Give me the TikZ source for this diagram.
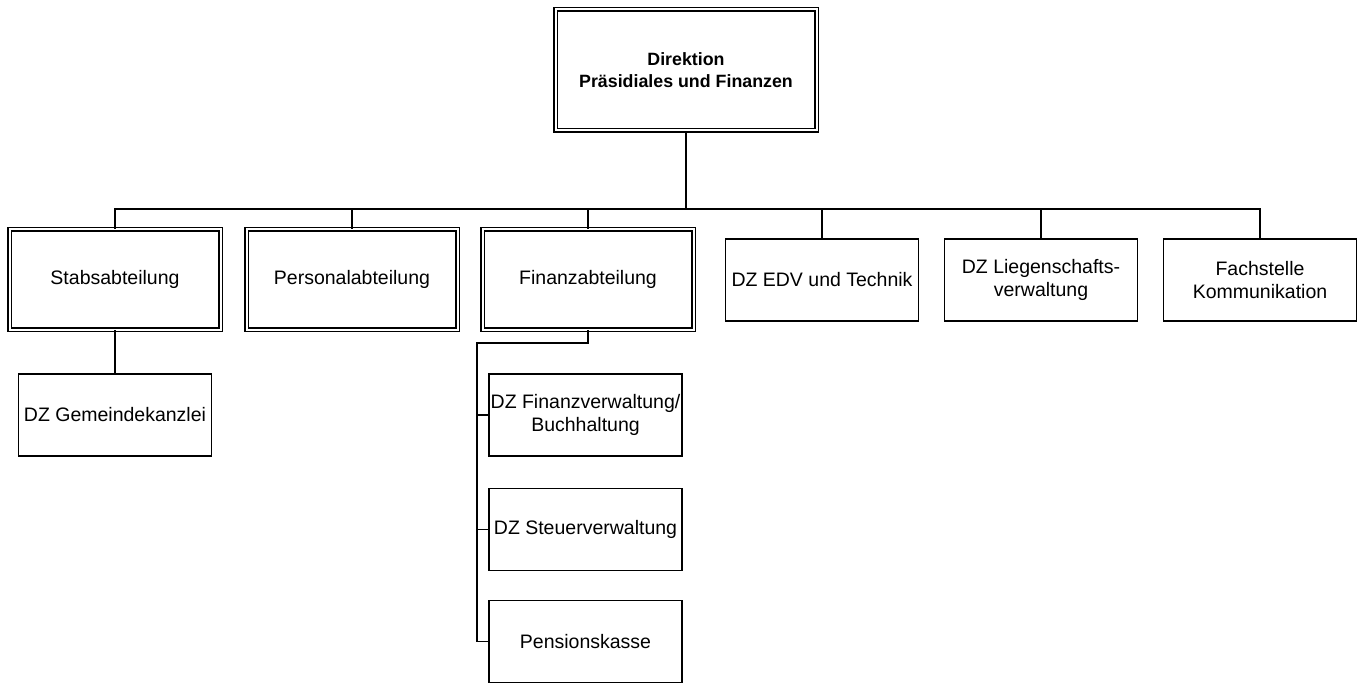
\documentclass[tikz,border=0pt]{standalone}
\usepackage{fontspec}
\setmainfont{Liberation Sans}

\begin{document}
\begin{tikzpicture}[x=1pt, y=-1pt, line width=1.8pt, font=\fontsize{19.5}{23}\selectfont,
    head node/.style={rectangle, draw, double, double distance=2pt, line width=1.5pt, minimum width=261pt, minimum height=121pt, inner sep=0pt, align=center, font=\fontsize{17.8}{22}\selectfont\bfseries},
    dept node/.style={rectangle, draw, double, double distance=2pt, line width=1.5pt, minimum width=211pt, minimum height=100pt, inner sep=0pt, align=center},
    unit node/.style={rectangle, draw, line width=1.8pt, minimum width=193pt, minimum height=82pt, inner sep=0pt, align=center},
    conn/.style={draw, line width=1.8pt}]
\useasboundingbox[fill=white] (0,0) rectangle (1364,684);

\node[head node] (direktion) at (686,70) {Direktion\\Präsidiales und Finanzen};

\node[dept node] (stab) at (115,279.5) {Stabsabteilung};
\node[dept node] (personal) at (352,279.5) {Personalabteilung};
\node[dept node] (finanz) at (588,279.5) {Finanzabteilung};
\node[unit node] (edv) at (822,280) {DZ EDV und Technik};
\node[unit node] (liegenschaft) at (1041,280) {DZ Liegenschafts-\\verwaltung};
\node[unit node] (fachstelle) at (1260,280) {Fachstelle\\Kommunikation};

\node[unit node] (gemeinde) at (115,415) {DZ Gemeindekanzlei};
\node[unit node] (finverw) at (585.5,415) {DZ Finanzverwaltung/\\Buchhaltung};
\node[unit node] (steuer) at (585.5,529.5) {DZ Steuerverwaltung};
\node[unit node] (pension) at (585.5,641.5) {Pensionskasse};

% connectors
\coordinate (bus) at (686,209);
\coordinate (fin bus) at (477,343);
\draw[conn] (direktion.south) -- (bus);
\draw[conn] (stab.north) |- (bus) -| (fachstelle.north);
\foreach \n in {personal, finanz, edv, liegenschaft}
    \draw[conn] (bus -| \n) -- (\n.north);
\draw[conn] (stab.south) -- (gemeinde.north);
\draw[conn] (finanz.south) |- (fin bus) |- (pension.west);
\draw[conn] (fin bus |- finverw.west) -- (finverw.west);
\draw[conn] (fin bus |- steuer.west) -- (steuer.west);
\end{tikzpicture}
\end{document}
